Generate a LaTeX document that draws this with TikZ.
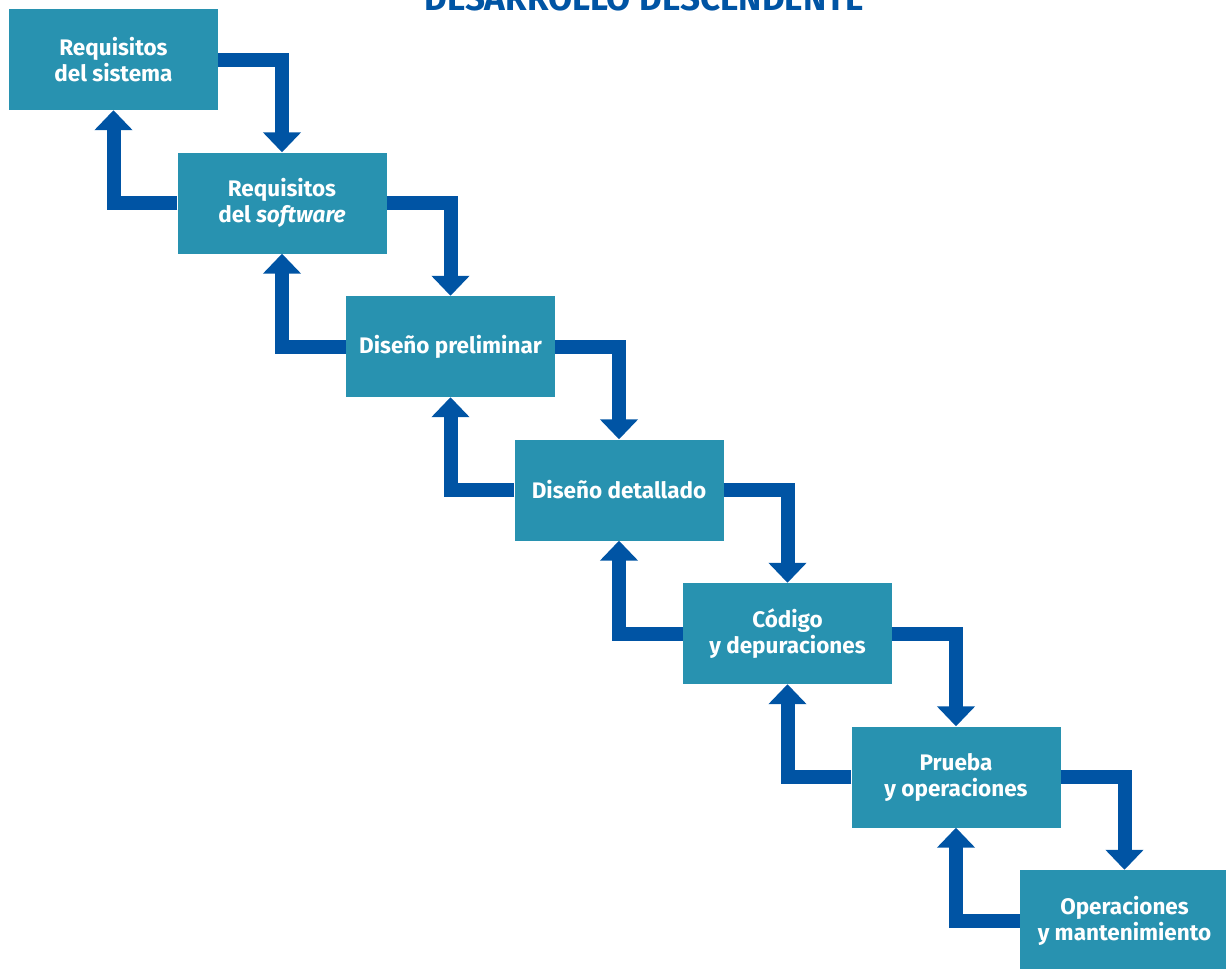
\documentclass[tikz,border=0pt]{standalone}
\usepackage{fontspec}
\setmainfont{Fira Sans}
\usetikzlibrary{positioning, arrows.meta}

\definecolor{boxteal}{RGB}{40,146,176}
\definecolor{arrowblue}{RGB}{0,84,164}

\begin{document}
\begin{tikzpicture}[x=1pt, y=1pt, node distance=143.5pt and 168.5pt, on grid]

    % Define styles
    \tikzset{
        phase/.style = {rectangle, minimum width=209pt, minimum height=101pt, inner sep=0pt, align=center, fill=boxteal, text=white, font=\fontsize{22.5}{26}\selectfont\bfseries},
        flow/.style = {draw=arrowblue, line width=14pt, -{Triangle[width=37pt, length=20pt]}},
        title/.style = {text=arrowblue, font=\fontsize{35}{35}\selectfont\bfseries, anchor=base}
    }

    \useasboundingbox (0,0) rectangle (1226,-969);

    % Title
    \node (head) [title] at (644,-10) {DESARROLLO DESCENDENTE};

    % Nodes
    \node (sys) [phase] at (113.5,-59.5) {Requisitos\\del sistema};
    \node (soft) [phase, below right=of sys] {Requisitos\\del \textit{software}};
    \node (prelim) [phase, below right=of soft] {Diseño preliminar};
    \node (detail) [phase, below right=of prelim] {Diseño detallado};
    \node (code) [phase, below right=of detail] {Código\\y depuraciones};
    \node (test) [phase, below right=of code] {Prueba\\y operaciones};
    \node (ops) [phase, below right=of test] {Operaciones\\y mantenimiento};

    % Arrows
    \draw [flow] (sys.east) -| (soft.north);
    \draw [flow] (soft.east) -| (prelim.north);
    \draw [flow] (prelim.east) -| (detail.north);
    \draw [flow] (detail.east) -| (code.north);
    \draw [flow] (code.east) -| (test.north);
    \draw [flow] (test.east) -| (ops.north);
    \draw [flow] (soft.west) -| (sys.south);
    \draw [flow] (prelim.west) -| (soft.south);
    \draw [flow] (detail.west) -| (prelim.south);
    \draw [flow] (code.west) -| (detail.south);
    \draw [flow] (test.west) -| (code.south);
    \draw [flow] (ops.west) -| (test.south);
\end{tikzpicture}
\end{document}
